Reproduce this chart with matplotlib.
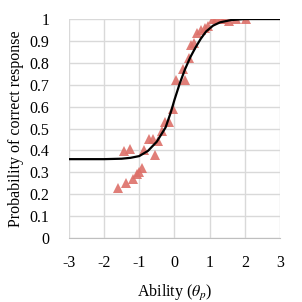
import numpy as np
import matplotlib
matplotlib.use('Agg')
import matplotlib.pyplot as plt

# observed proportions (triangles)
theta_obs = [-1.60, -1.37, -1.17, -1.05, -1.00, -0.93, -1.43, -1.26, -0.86, -0.54,
             -0.72, -0.62, -0.46, -0.35, -0.27, -0.15, -0.04, 0.05, 0.31, 0.24,
             0.41, 0.48, 0.55, 0.64, 0.76, 0.87, 0.95, 1.09, 1.18, 1.32,
             1.40, 1.56, 1.75, 2.03]
p_obs = [0.23, 0.25, 0.27, 0.29, 0.30, 0.32, 0.395, 0.405, 0.40, 0.38,
         0.45, 0.45, 0.445, 0.49, 0.53, 0.53, 0.59, 0.72, 0.72, 0.77,
         0.82, 0.88, 0.89, 0.935, 0.95, 0.96, 0.97, 1.0, 1.0, 1.0,
         1.0, 0.99, 1.0, 1.0]

# model curve
theta_curve = [-3.0, -2.0, -1.5, -1.25, -1.0, -0.75, -0.5, -0.25, -0.1, 0.0,
               0.15, 0.3, 0.45, 0.6, 0.75, 0.9, 1.1, 1.3, 1.6, 2.0, 3.0]
p_curve = [0.36, 0.36, 0.362, 0.366, 0.374, 0.398, 0.44, 0.505, 0.575, 0.63,
           0.705, 0.77, 0.825, 0.87, 0.91, 0.943, 0.97, 0.985, 0.995, 1.0, 1.0]

x_ticks = [-3, -2, -1, 0, 1, 2, 3]
y_ticks = [0, 0.1, 0.2, 0.3, 0.4, 0.5, 0.6, 0.7, 0.8, 0.9, 1]
y_ticklabels = ['0', '0.1', '0.2', '0.3', '0.4', '0.5', '0.6', '0.7', '0.8', '0.9', '1']

plt.rcParams['font.family'] = ['Liberation Serif', 'DejaVu Serif']
plt.rcParams['mathtext.fontset'] = 'stix'

fig = plt.figure(figsize=(3.02, 3.02), dpi=100)
ax = fig.add_axes([0.228, 0.212, 0.699, 0.725])

ax.plot(theta_obs, p_obs, linestyle='none', marker='^', markersize=7,
        color='#DD7069', alpha=0.9, markeredgewidth=0, zorder=3)
ax.plot(theta_curve, p_curve, color='black', linewidth=1.6, zorder=4)

ax.set_xlim(-3, 3)
ax.set_ylim(0, 1)
ax.set_xticks(x_ticks)
ax.set_xticklabels([str(t) for t in x_ticks])
ax.set_yticks(y_ticks)
ax.set_yticklabels(y_ticklabels)
ax.grid(True, color='#D9D9D9', linewidth=1.0)
ax.set_axisbelow(True)
for s in ['top', 'right', 'left']:
    ax.spines[s].set_visible(False)
ax.spines['bottom'].set_color('#BFBFBF')
ax.tick_params(length=0, labelsize=11.5, pad=12)
ax.tick_params(axis='y', pad=14)

ax.set_xlabel(r'Ability ($\theta_p$)', fontsize=11.5, labelpad=9)
ax.set_ylabel('Probability of correct response', fontsize=11.5, labelpad=4)

fig.savefig('out.png', dpi=100)
